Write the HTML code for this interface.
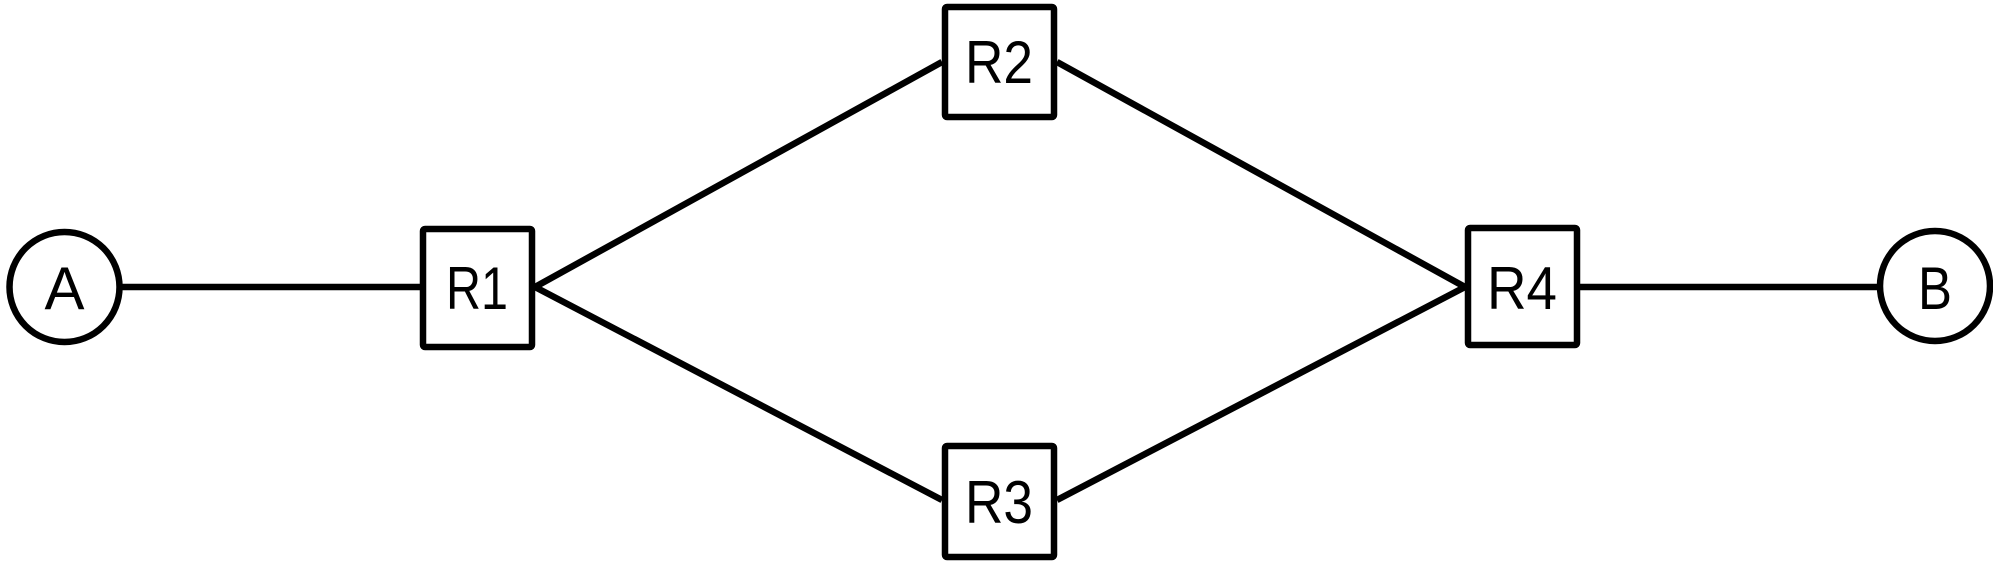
<!DOCTYPE html>
<html><head><meta charset="utf-8"><style>
html,body{margin:0;padding:0;background:#fff;}
svg{display:block;}
text{font-family:"Liberation Sans",sans-serif;font-size:60px;fill:#000;text-anchor:middle;}
</style></head><body>
<svg width="1993" height="582" viewBox="0 0 1993 582" xmlns="http://www.w3.org/2000/svg">
<g stroke="#000" stroke-width="6.5" fill="none" stroke-linejoin="round">
<line x1="122" y1="287" x2="420" y2="287"/>
<line x1="1580" y1="287" x2="1877" y2="287"/>
<line x1="535" y1="287" x2="942" y2="62"/>
<line x1="535" y1="287" x2="942" y2="500"/>
<line x1="1057" y1="62" x2="1465" y2="287"/>
<line x1="1057" y1="500" x2="1465" y2="287"/>
<circle cx="64.5" cy="287" r="55"/>
<circle cx="1935" cy="286" r="55"/>
<rect x="423" y="229" width="109" height="118" rx="2"/>
<rect x="945" y="7" width="109" height="110" rx="2"/>
<rect x="945" y="446" width="109" height="111" rx="2"/>
<rect x="1468" y="228" width="109" height="117" rx="2"/>
</g>
<text x="64.5" y="309" textLength="40" lengthAdjust="spacingAndGlyphs">A</text>
<text x="1935" y="309" textLength="34" lengthAdjust="spacingAndGlyphs">B</text>
<text x="477" y="309" textLength="62" lengthAdjust="spacingAndGlyphs">R1</text>
<text x="999" y="83" textLength="68" lengthAdjust="spacingAndGlyphs">R2</text>
<text x="999" y="523" textLength="68" lengthAdjust="spacingAndGlyphs">R3</text>
<text x="1522" y="309" textLength="70" lengthAdjust="spacingAndGlyphs">R4</text>
</svg>
</body></html>
